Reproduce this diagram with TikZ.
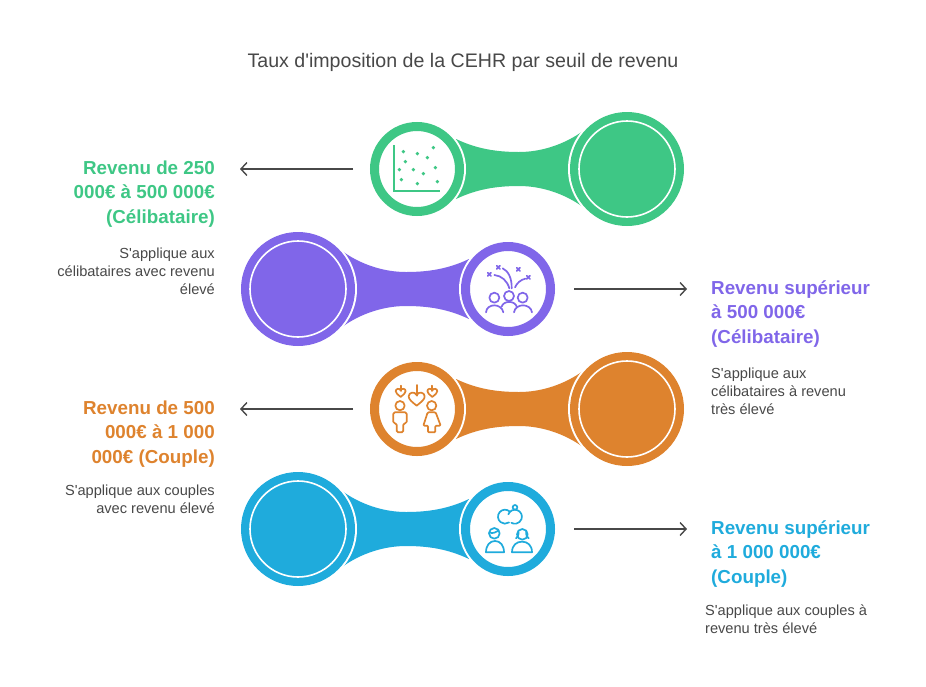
\documentclass[tikz,border=0pt]{standalone}
\usepackage{fontspec}
\setmainfont{Liberation Sans}[Ligatures=TeXOff]
\usetikzlibrary{arrows.meta}

\definecolor{rowgreen}{HTML}{3EC785}
\definecolor{rowpurple}{HTML}{8066E9}
\definecolor{roworange}{HTML}{DE832E}
\definecolor{rowblue}{HTML}{1FABDC}
\definecolor{inkgrey}{HTML}{484848}

\tikzset{
  gap/.style={circle, fill=white, inner sep=0pt, minimum size=#1},
  smallring/.style={circle, draw=#1, fill=white, line width=9pt, inner sep=0pt, minimum size=85pt},
  bigdisc/.style={circle, fill=#1, inner sep=0pt, minimum size=114pt},
  bigline/.style={circle, draw=white, line width=1.6pt, inner sep=0pt, minimum size=96pt},
  pointer/.style={draw=inkgrey, line width=1.4pt, -{Straight Barb[length=6pt,width=13pt]}},
  headtext/.style={font=\fontsize{18.8}{24.3}\selectfont\bfseries, inner sep=0pt},
  desctext/.style={font=\fontsize{14.6}{18}\selectfont, text=inkgrey, inner sep=0pt},
  icon/.style={line width=1.7pt, line cap=round, line join=round},
  heart/.pic={
    \draw[pic actions] (0,22) .. controls (-15,10) and (-24,3) .. (-24,-6) .. controls (-24,-18) and (-6,-22) .. (0,-10)
      .. controls (6,-22) and (24,-18) .. (24,-6) .. controls (24,3) and (15,10) .. (0,22) -- cycle;
  }
}

\begin{document}
\begin{tikzpicture}[x=1pt, y=-1pt]
  \useasboundingbox (0,0) rectangle (926,686);

  \node[font=\fontsize{19.6}{22}\selectfont, text=inkgrey, inner sep=0pt] (title) at (463,62) {Taux d'imposition de la CEHR par seuil de revenu};

  % row 1
  \begin{scope}[shift={(417,169)}]
    \fill[rowgreen] (39,-30) .. controls (60,-20) and (80,-17) .. (102,-17) .. controls (125,-17) and (148,-25) .. (166,-38)
      -- (166,38) .. controls (148,25) and (125,17) .. (102,17) .. controls (80,17) and (60,20) .. (39,30) -- cycle;
    \node[gap=98pt] (g1a) at (0,0) {};
    \node[gap=118pt] (g1b) at (210,0) {};
    \node[smallring=rowgreen] (c1) at (0,0) {};
    \node[bigdisc=rowgreen] (d1) at (210,0) {};
    \node[bigline] (l1) at (210,0) {};
  \end{scope}

  % row 2
  \begin{scope}[shift={(508,289)}, xscale=-1]
    \fill[rowpurple] (39,-30) .. controls (60,-20) and (80,-17) .. (102,-17) .. controls (125,-17) and (148,-25) .. (166,-38)
      -- (166,38) .. controls (148,25) and (125,17) .. (102,17) .. controls (80,17) and (60,20) .. (39,30) -- cycle;
    \node[gap=98pt] (g2a) at (0,0) {};
    \node[gap=118pt] (g2b) at (210,0) {};
    \node[smallring=rowpurple] (c2) at (0,0) {};
    \node[bigdisc=rowpurple] (d2) at (210,0) {};
    \node[bigline] (l2) at (210,0) {};
  \end{scope}

  % row 3
  \begin{scope}[shift={(417,409)}]
    \fill[roworange] (39,-30) .. controls (60,-20) and (80,-17) .. (102,-17) .. controls (125,-17) and (148,-25) .. (166,-38)
      -- (166,38) .. controls (148,25) and (125,17) .. (102,17) .. controls (80,17) and (60,20) .. (39,30) -- cycle;
    \node[gap=98pt] (g3a) at (0,0) {};
    \node[gap=118pt] (g3b) at (210,0) {};
    \node[smallring=roworange] (c3) at (0,0) {};
    \node[bigdisc=roworange] (d3) at (210,0) {};
    \node[bigline] (l3) at (210,0) {};
  \end{scope}

  % row 4
  \begin{scope}[shift={(508,529)}, xscale=-1]
    \fill[rowblue] (39,-30) .. controls (60,-20) and (80,-17) .. (102,-17) .. controls (125,-17) and (148,-25) .. (166,-38)
      -- (166,38) .. controls (148,25) and (125,17) .. (102,17) .. controls (80,17) and (60,20) .. (39,30) -- cycle;
    \node[gap=98pt] (g4a) at (0,0) {};
    \node[gap=118pt] (g4b) at (210,0) {};
    \node[smallring=rowblue] (c4) at (0,0) {};
    \node[bigdisc=rowblue] (d4) at (210,0) {};
    \node[bigline] (l4) at (210,0) {};
  \end{scope}

  % icons, in thirds of a pixel
  \begin{scope}[shift={(360,100)}, scale=1/3, rowgreen]
    \draw[line width=2pt] (103,136) -- (103,274) -- (241,274);
    \foreach \px/\py in {130/155,172/161,202/173,220/143,136/185,118/209,160/209,190/221,226/203,124/239,172/251,232/245}
      \fill (\px,\py) circle (5.5);
  \end{scope}

  \begin{scope}[shift={(450,235)}, scale=1/3, rowpurple, icon]
    \draw (133,188) circle (15) (177,183) circle (15) (218,188) circle (15);
    \draw (108,232) .. controls (110,204) and (155,204) .. (160,232);
    \draw (155,215) .. controls (160,196) and (195,196) .. (200,215);
    \draw (192,232) .. controls (196,204) and (242,204) .. (246,232);
    \draw (133,120) .. controls (155,122) and (172,138) .. (178,160);
    \draw (158,100) .. controls (175,108) and (186,130) .. (185,160);
    \draw (195,157) .. controls (200,145) and (212,134) .. (226,131);
    \foreach \px/\py in {118/118,145/97,205/103,235/127}
      \draw (\px-5,\py-5) -- (\px+5,\py+5) (\px-5,\py+5) -- (\px+5,\py-5);
  \end{scope}

  \begin{scope}[shift={(360,355)}, scale=1/3, roworange, icon]
    \draw (170,90) -- (170,122);
    \draw (122,92) -- (122,108) (217,92) -- (217,108);
    \draw (170,130) pic[draw=roworange, transform shape] {heart};
    \draw (122,112) pic[draw=roworange, transform shape, scale=0.62] {heart};
    \draw (217,112) pic[draw=roworange, transform shape, scale=0.62] {heart};
    \draw (120,152) circle (14) (215,152) circle (14);
    \draw[rounded corners=1.5pt] (100,205) -- (100,172) -- (140,172) -- (140,205) -- (130,205) -- (130,232) -- (110,232) -- (110,205) -- cycle;
    \draw[rounded corners=1pt] (203,172) -- (227,172) -- (242,212) -- (226,212) -- (226,232) -- (204,232) -- (204,212) -- (190,212) -- cycle;
  \end{scope}

  \begin{scope}[shift={(450,475)}, scale=1/3, rowblue, icon]
    \draw (178.5,109) arc[start angle=-50, end angle=-305, radius=21];
    \draw (175,118) arc[start angle=200, end angle=480, radius=21];
    \draw (195,97) circle (7);
    \draw (133,175) circle (16) (217,178) circle (16);
    \draw (118,172) .. controls (128,178) and (140,170) .. (146,166);
    \draw (205,168) .. controls (208,182) and (200,188) .. (198,190) (229,168) .. controls (226,182) and (234,188) .. (236,190);
    \draw (108,232) .. controls (108,210) and (120,198) .. (135,198) .. controls (150,198) and (162,210) .. (162,232) -- cycle;
    \draw (186,232) .. controls (186,210) and (200,200) .. (216,200) .. controls (232,200) and (246,210) .. (246,232) -- cycle;
  \end{scope}

  % connectors
  \coordinate (a1) at (353,169);
  \coordinate (b1) at (240,169);
  \coordinate (a2) at (574,289);
  \coordinate (b2) at (687,289);
  \coordinate (a3) at (353,409);
  \coordinate (b3) at (240,409);
  \coordinate (a4) at (574,529);
  \coordinate (b4) at (687,529);
  \draw[pointer] (a1) -- (b1);
  \draw[pointer] (a2) -- (b2);
  \draw[pointer] (a3) -- (b3);
  \draw[pointer] (a4) -- (b4);

  % labels
  \node[headtext, text=rowgreen, align=right, anchor=east] (h1) at (215,194) {Revenu de 250\\000€ à 500 000€\\(Célibataire)};
  \node[desctext, align=right, anchor=east] (t1) at (215,271.5) {S'applique aux\\célibataires avec revenu\\élevé};
  \node[headtext, text=rowpurple, align=left, anchor=west] (h2) at (711,314) {Revenu supérieur\\à 500 000€\\(Célibataire)};
  \node[desctext, align=left, anchor=west] (t2) at (711,391.5) {S'applique aux\\célibataires à revenu\\très élevé};
  \node[headtext, text=roworange, align=right, anchor=east] (h3) at (215,434) {Revenu de 500\\000€ à 1 000\\000€ (Couple)};
  \node[desctext, align=right, anchor=east] (t3) at (215,499.5) {S'applique aux couples\\avec revenu élevé};
  \node[headtext, text=rowblue, align=left, anchor=west] (h4) at (711,554) {Revenu supérieur\\à 1 000 000€\\(Couple)};
  \node[desctext, align=left, anchor=west] (t4) at (705,619.5) {S'applique aux couples à\\revenu très élevé};
\end{tikzpicture}
\end{document}
